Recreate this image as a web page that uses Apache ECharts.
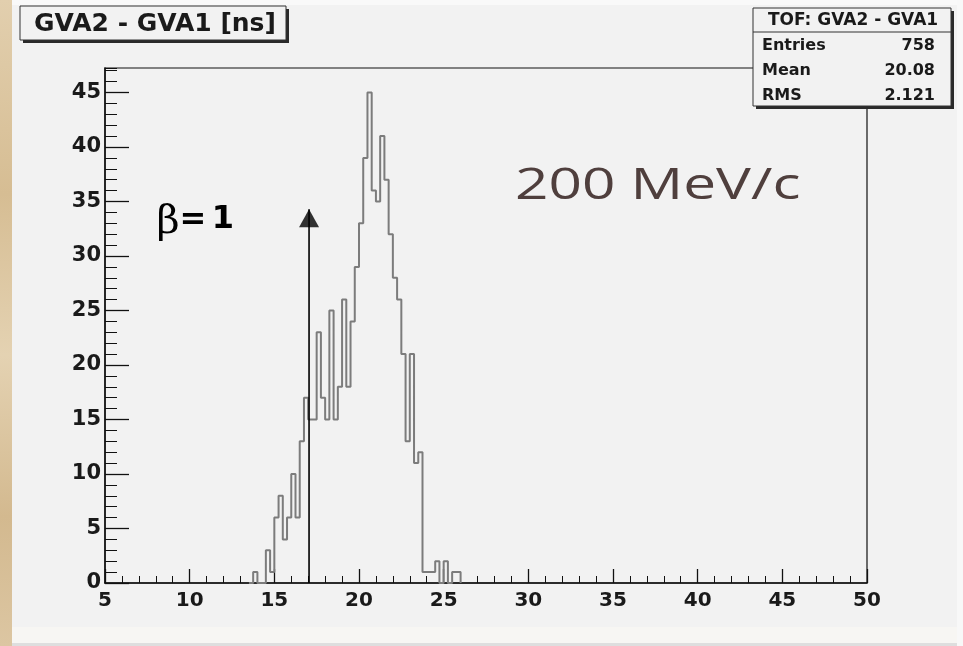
<!DOCTYPE html>
<html>
<head>
<meta charset="utf-8">
<script src="https://cdn.jsdelivr.net/npm/echarts@6/dist/echarts.min.js"></script>
<style>
  html, body { margin: 0; padding: 0; background: #f2f2f2; }
  #chart { width: 963px; height: 646px; }
</style>
</head>
<body>
<div id="chart"></div>
<script>
// TOF: GVA2 - GVA1, histogram with 0.25 ns bins (non-empty range only)
const binStart = 13.5;
const binWidth = 0.25;
const counts = [
  0, 1, 0, 0, 3, 1, 6, 8, 4, 6,
  10, 6, 13, 17, 15, 15, 23, 17, 15, 25,
  15, 18, 26, 18, 24, 29, 33, 39, 45, 36,
  35, 41, 37, 32, 28, 26, 21, 13, 21, 11,
  12, 1, 1, 1, 2, 0, 2, 0, 1, 1
];

// Axis ranges and ticks
const xMin = 5, xMax = 50, xStep = 5;
const yMin = 0, yTop = 47.25, yStep = 5, yMinorStep = 1;

// Statistics box
const statsTitle = 'TOF: GVA2 - GVA1';
const statsRows = [['Entries', '758'], ['Mean', '20.08'], ['RMS', '2.121']];

// beta = 1 marker
const betaOneTof = 17.05;
const arrowTip = 34.3;

// histogram outline: each bin's left edge with its count, then close at the last edge
const histPoints = counts.map((c, i) => [binStart + i * binWidth, c]);
histPoints.push([binStart + counts.length * binWidth, 0]);

const bold = 'DejaVu Sans';
const ink = '#1a1a1a';

const chart = echarts.init(document.getElementById('chart'), null, { renderer: 'canvas' });

const graphic = [
  // page edges
  { type: 'rect', z: 1, shape: { x: 0, y: 0, width: 963, height: 5 }, style: { fill: '#f9f9f9' } },
  { type: 'rect', z: 1, shape: { x: 0, y: 627, width: 963, height: 19 }, style: { fill: '#f7f6f3' } },
  { type: 'rect', z: 1, shape: { x: 0, y: 643, width: 963, height: 3 }, style: { fill: '#dedede' } },
  { type: 'rect', z: 1, shape: { x: 957, y: 0, width: 6, height: 646 }, style: { fill: '#f8f8f8' } },
  { type: 'rect', z: 1, shape: { x: 0, y: 0, width: 12, height: 646 },
    style: { fill: new echarts.graphic.LinearGradient(0, 0, 0, 1, [
      { offset: 0, color: '#e2cfae' }, { offset: 0.3, color: '#d6bd93' },
      { offset: 0.55, color: '#e4d2b2' }, { offset: 0.8, color: '#d3b98f' },
      { offset: 1, color: '#dcc6a2' }]) } },

  // title pave
  { type: 'rect', z: 50, shape: { x: 23, y: 9, width: 266, height: 34 }, style: { fill: '#2a2a2a' } },
  { type: 'rect', z: 51, shape: { x: 20, y: 6, width: 266, height: 34 }, style: { fill: '#f2f2f2', stroke: '#333', lineWidth: 1 } },
  { type: 'text', z: 52, x: 155, y: 24,
    style: { x: 0, y: 0, text: 'GVA2 - GVA1 [ns]', fill: ink, font: 'bold 25px "DejaVu Sans"', textAlign: 'center', textVerticalAlign: 'middle' } },

  // statistics pave
  { type: 'rect', z: 50, shape: { x: 756, y: 11, width: 198, height: 98 }, style: { fill: '#2a2a2a' } },
  { type: 'rect', z: 51, shape: { x: 753, y: 8, width: 198, height: 98 }, style: { fill: '#f2f2f2', stroke: '#333', lineWidth: 1 } },
  { type: 'line', z: 52, shape: { x1: 753, y1: 32, x2: 951, y2: 32 }, style: { stroke: '#333', lineWidth: 1 } },
  { type: 'text', z: 52, x: 853, y: 21,
    style: { x: 0, y: 0, text: statsTitle, fill: ink, font: 'bold 17px "DejaVu Sans"', textAlign: 'center', textVerticalAlign: 'middle' } },

  // annotations inside the frame
  { type: 'text', z: 60, x: 168, y: 223,
    style: { x: 0, y: 0, text: 'β', fill: '#000', font: '40px "DejaVu Serif"', textAlign: 'center', textVerticalAlign: 'middle' } },
  { type: 'text', z: 60, x: 193, y: 221,
    style: { x: 0, y: 0, text: '=', fill: '#000', font: 'bold 32px "DejaVu Sans"', textAlign: 'center', textVerticalAlign: 'middle' } },
  { type: 'text', z: 60, x: 223, y: 220,
    style: { x: 0, y: 0, text: '1', fill: '#000', font: 'bold 32px "DejaVu Sans"', textAlign: 'center', textVerticalAlign: 'middle' } },
  { type: 'text', z: 60, x: 515, y: 186, scaleX: 1.33,
    style: { x: 0, y: 0, text: '200 MeV/c', fill: '#4f3f3d', font: '44px "Open Sans"', textAlign: 'left', textVerticalAlign: 'middle' } }
];

statsRows.forEach((row, i) => {
  const y = 46 + i * 25;
  graphic.push({ type: 'text', z: 52, x: 762, y: y,
    style: { x: 0, y: 0, text: row[0], fill: ink, font: 'bold 16px "DejaVu Sans"', textAlign: 'left', textVerticalAlign: 'middle' } });
  graphic.push({ type: 'text', z: 52, x: 935, y: y,
    style: { x: 0, y: 0, text: row[1], fill: ink, font: 'bold 16px "DejaVu Sans"', textAlign: 'right', textVerticalAlign: 'middle' } });
});

const option = {
  animation: false,
  backgroundColor: '#f2f2f2',
  grid: { left: 105, right: 96, top: 68, bottom: 63, show: true, borderColor: '#111', borderWidth: 1.2, backgroundColor: 'transparent' },
  xAxis: {
    type: 'value', min: xMin, max: xMax, interval: xStep,
    axisLine: { show: true, lineStyle: { color: '#111', width: 1.5 } },
    axisTick: { show: true, inside: true, length: 14, lineStyle: { color: '#111', width: 1.3 } },
    minorTick: { show: true, splitNumber: 5, length: 7, lineStyle: { color: '#111', width: 1 } },
    axisLabel: { margin: 8, fontFamily: bold, fontWeight: 'bold', fontSize: 20, color: ink },
    splitLine: { show: false }
  },
  yAxis: [
    {
      type: 'value', min: yMin, max: yTop, interval: yStep, position: 'left',
      axisLine: { show: true, lineStyle: { color: '#111', width: 1.5 } },
      axisTick: { show: true, inside: true, length: 24, lineStyle: { color: '#111', width: 1.3 } },
      axisLabel: { showMaxLabel: false, margin: 4, fontFamily: bold, fontWeight: 'bold', fontSize: 21, color: ink },
      splitLine: { show: false }
    },
    {
      type: 'value', min: yMin, max: yTop, interval: yMinorStep, position: 'left', offset: 0,
      axisLine: { show: false },
      axisTick: { show: true, inside: true, length: 12, lineStyle: { color: '#111', width: 1 } },
      axisLabel: { show: false },
      splitLine: { show: false }
    }
  ],
  series: [
    {
      name: 'GVA2 - GVA1', type: 'line', step: 'end', data: histPoints,
      symbol: 'none', lineStyle: { color: '#7c7c7c', width: 2 }, z: 3
    },
    {
      name: 'beta1', type: 'line', data: [[betaOneTof, yMin], [betaOneTof, arrowTip]],
      symbol: 'none', lineStyle: { color: '#000', width: 1.6 }, z: 4
    },
    {
      name: 'beta1 head', type: 'scatter', data: [[betaOneTof, arrowTip]],
      symbol: 'triangle', symbolSize: [20, 18], symbolOffset: [0, '50%'],
      itemStyle: { color: '#000' }, z: 5
    }
  ],
  graphic: graphic
};

chart.setOption(option);
</script>
</body>
</html>
